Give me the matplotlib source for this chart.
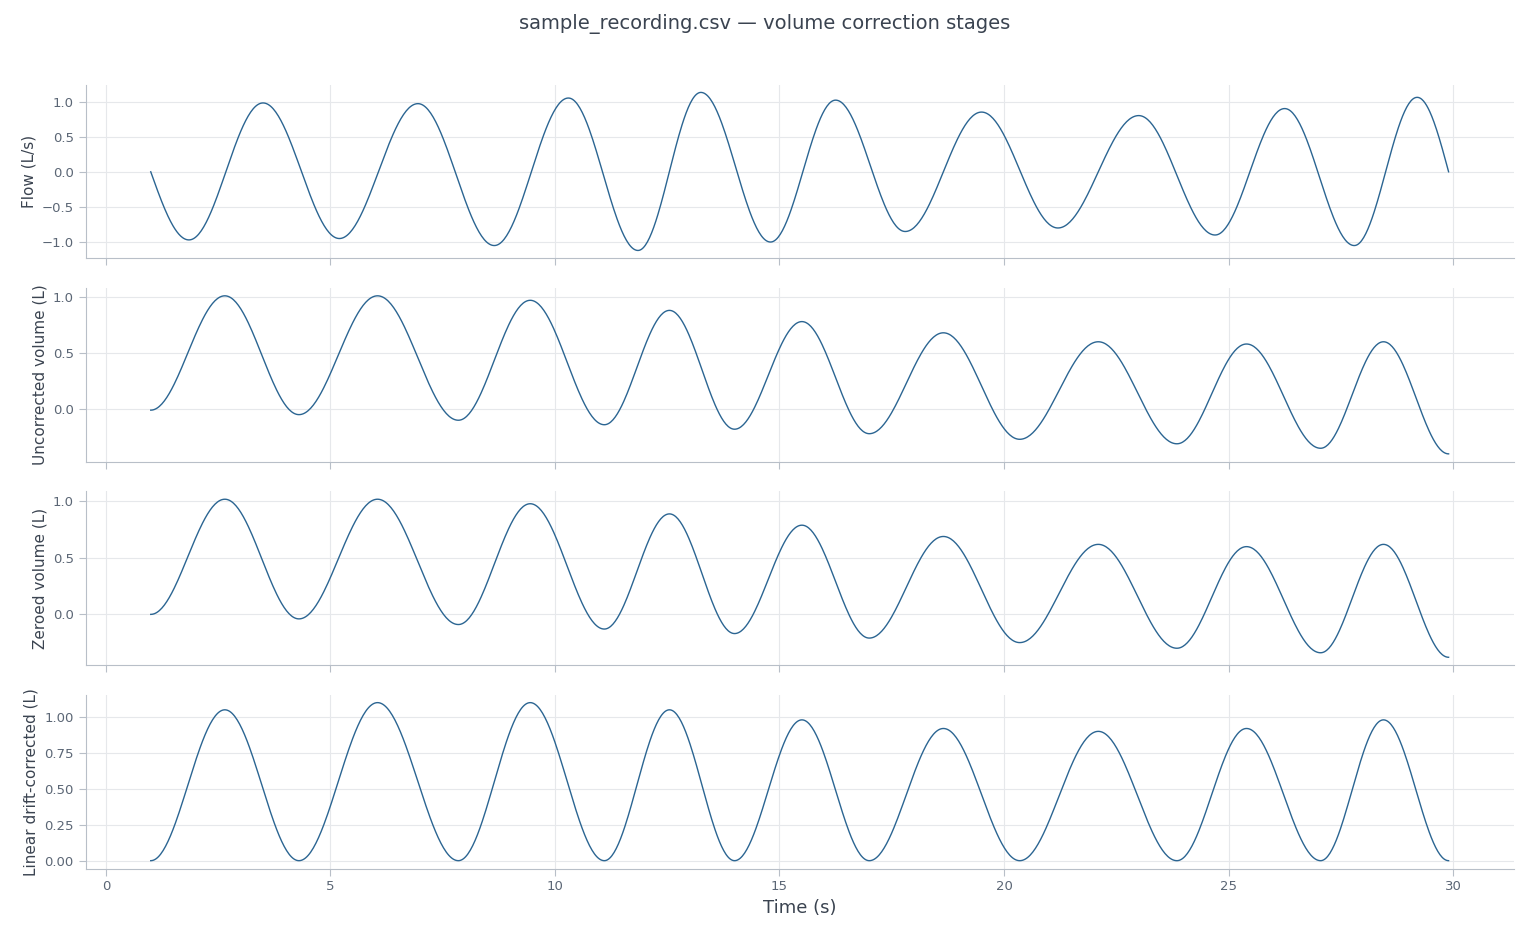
import numpy as np
import matplotlib
matplotlib.use("Agg")
import matplotlib.pyplot as plt

# extrema (time s, value)
flow_t = [1.0, 1.85, 3.5, 5.2, 6.95, 8.65, 10.3, 11.85, 13.25, 14.8, 16.25, 17.8,
          19.5, 21.2, 23.0, 24.7, 26.25, 27.8, 29.2, 29.9]
flow_v = [0.0, -0.97, 0.98, -0.95, 0.97, -1.05, 1.05, -1.12, 1.13, -1.0, 1.02, -0.85,
          0.85, -0.8, 0.8, -0.9, 0.9, -1.05, 1.06, 0.0]

vol_t = [1.0, 2.65, 4.3, 6.05, 7.85, 9.45, 11.1, 12.55, 14.0, 15.5, 17.0, 18.65,
         20.35, 22.1, 23.85, 25.4, 27.05, 28.45, 29.9]
raw_v = [-0.01, 1.01, -0.05, 1.01, -0.1, 0.97, -0.14, 0.88, -0.18, 0.78, -0.22, 0.68,
         -0.27, 0.6, -0.31, 0.58, -0.35, 0.6, -0.4]
zero_v = [0.0, 1.02, -0.04, 1.02, -0.09, 0.98, -0.13, 0.89, -0.17, 0.79, -0.21, 0.69,
          -0.25, 0.62, -0.3, 0.6, -0.34, 0.62, -0.38]
lin_v = [0.0, 1.05, 0.0, 1.10, 0.0, 1.10, 0.0, 1.05, 0.0, 0.98, 0.0, 0.92,
         0.0, 0.90, 0.0, 0.92, 0.0, 0.98, 0.0]

LABELS = ["Flow (L/s)", "Uncorrected volume (L)", "Zeroed volume (L)", "Linear drift-corrected (L)"]
LINE = "#2b6592"
GREY = "#b8bfc8"
TXT = "#5b6675"


def smooth(tk, vk, n=60, open_ends=False):
    # half-cosine segments between successive extrema; quarter-wave at open ends
    xs, ys = [], []
    last = len(tk) - 2
    for i in range(len(tk) - 1):
        s = np.linspace(0, 1, n, endpoint=False)
        if open_ends and i == 0:
            w = np.sin(np.pi / 2 * s)
        elif open_ends and i == last:
            w = 1 - np.cos(np.pi / 2 * s)
        else:
            w = (1 - np.cos(np.pi * s)) / 2
        xs.append(tk[i] + (tk[i + 1] - tk[i]) * s)
        ys.append(vk[i] + (vk[i + 1] - vk[i]) * w)
    xs.append([tk[-1]])
    ys.append([vk[-1]])
    return np.concatenate(xs), np.concatenate(ys)


series = [(flow_t, flow_v, True), (vol_t, raw_v, False), (vol_t, zero_v, False), (vol_t, lin_v, False)]

fig, axes = plt.subplots(4, 1, figsize=(15.29, 9.39), dpi=100, sharex=True)
fig.subplots_adjust(left=0.056, right=0.99, top=0.91, bottom=0.075, hspace=0.17)
fig.suptitle("sample_recording.csv — volume correction stages", color="#3a4350", fontsize=14, y=0.985)

for ax, (tk, vk, oe), lab in zip(axes, series, LABELS):
    x, y = smooth(tk, vk, open_ends=oe)
    ax.plot(x, y, color=LINE, lw=1.0)
    ax.set_ylabel(lab, color="#3a4350", fontsize=11)
    ax.grid(color="#e6e8eb", lw=0.8)
    ax.set_axisbelow(True)
    for s in ("top", "right"):
        ax.spines[s].set_visible(False)
    for s in ("left", "bottom"):
        ax.spines[s].set_color(GREY)
    ax.tick_params(colors=GREY, labelcolor=TXT, labelsize=9.5, length=5)

axes[0].set_yticks([-1.0, -0.5, 0.0, 0.5, 1.0])
axes[1].set_yticks([0.0, 0.5, 1.0])
axes[2].set_yticks([0.0, 0.5, 1.0])
axes[3].set_yticks([0.0, 0.25, 0.5, 0.75, 1.0])
axes[3].set_xlim(-0.45, 31.35)
axes[3].set_xticks([0, 5, 10, 15, 20, 25, 30])
axes[3].set_xlabel("Time (s)", color="#3a4350", fontsize=13)

fig.savefig("out.png", dpi=100)
